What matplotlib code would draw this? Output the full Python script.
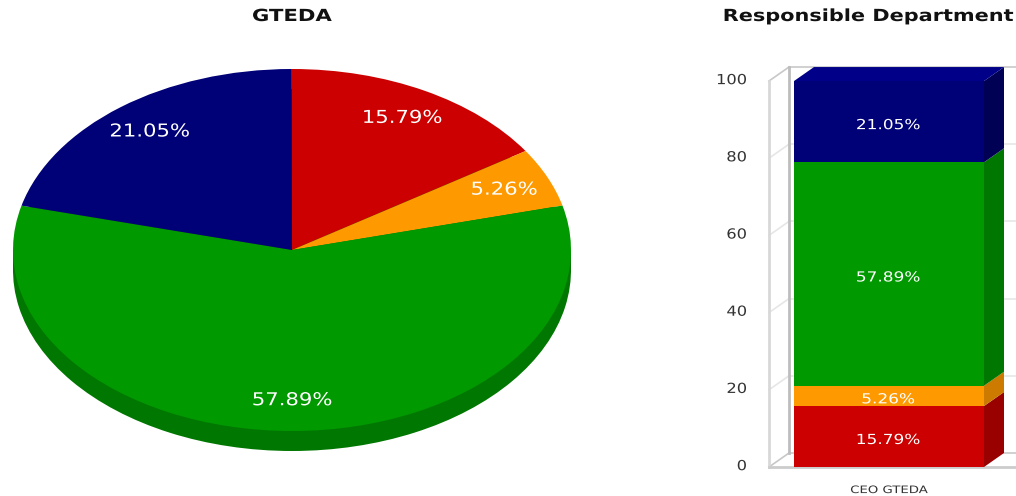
import matplotlib
matplotlib.use("Agg")
import matplotlib.pyplot as plt
from matplotlib.patches import Polygon
from matplotlib.patheffects import AbstractPathEffect
from matplotlib.transforms import Affine2D, ScaledTranslation

plt.rcParams['font.family'] = ['DejaVu Sans']

# ---- data ----
pie_title = "GTEDA"
bar_title = "Responsible Department"
series_values = [15.79, 5.26, 57.89, 21.05]   # red, orange, green, navy
category = "CEO GTEDA"
y_ticks = [0, 20, 40, 60, 80, 100]

# ---- styles ----
front = ['#CC0000', '#FF9900', '#009900', '#000077']
side = ['#990000', '#CC7A00', '#007700', '#000055']
top_col = '#000088'
rim = '#007700'
W, H = 1016, 496
fig = plt.figure(figsize=(W / 100, H / 100), dpi=100, facecolor='white')


class StretchX(AbstractPathEffect):
    """Widen a text's glyphs horizontally, keeping it real text."""

    def __init__(self, factor, anchor='center'):
        super().__init__()
        self.factor, self.anchor = factor, anchor

    def draw_path(self, renderer, gc, tpath, affine, rgbFace=None):
        ext = tpath.get_extents()
        cx = ext.x1 if self.anchor == 'right' else (ext.x0 + ext.x1) / 2
        t = Affine2D().translate(-cx, 0).scale(self.factor, 1).translate(cx, 0) + affine
        renderer.draw_path(gc, tpath, t, rgbFace)


def px_axes(x0, y_top, x1, y_bot):
    return fig.add_axes([x0 / W, 1 - y_bot / H, (x1 - x0) / W, (y_bot - y_top) / H])


# ---- pie (elliptical, with a dark rim below) ----
depth = 20 / 181
ax = px_axes(13, 69, 571, 451)
fractions = [v / 100 for v in series_values]
ax.pie(fractions, normalize=False, center=(0, -depth), radius=1, startangle=90,
       counterclock=False, colors=[rim] * 4, frame=True)
ax.add_patch(plt.Rectangle((-1, -depth), 2, depth, color=rim, lw=0, zorder=1))
ax.pie(fractions, normalize=False, radius=1, startangle=90, counterclock=False,
       colors=front, autopct=lambda p: f'{p:.2f}%', pctdistance=0.83, frame=True,
       textprops=dict(color='white', fontsize=12.8), wedgeprops=dict(zorder=2))
ax.set_aspect('auto')
ax.set_xlim(-1, 1)
ax.set_ylim(-1 - depth, 1)
ax.axis('off')
for t in ax.texts:
    t.set_zorder(5)
    if t.get_text().endswith('%'):
        t.set_path_effects([StretchX(1.19)])
fig.text(292 / W, 1 - 16 / H, pie_title, ha='center', va='center',
         fontsize=12, fontweight='bold', color='#111111',
         path_effects=[StretchX(1.27)])

# ---- 3-D stacked column ----
bx = px_axes(769, 60, 1016, 467)
px_y = 386 / 100
px_x = 190
dx, dy = 20 / px_x, 14 / px_y
bx.set_ylim(0, 407 / px_y)
bx.set_xlim(-120 / px_x, 127 / px_x)
x_left = bx.get_xlim()[0]
x_right = bx.get_xlim()[1]

# walls and grid
for v in y_ticks:
    col = '#c8c8c8' if v in (0, 100) else '#e6e6e6'
    bx.plot([x_left, x_left + dx], [v, v + dy], color=col, lw=1.2, zorder=1, clip_on=False)
    bx.plot([x_left + dx, x_right], [v + dy, v + dy], color=col, lw=1.2, zorder=1, clip_on=False)
bx.plot([x_left, x_left], [0, 100], color='#d8d8d8', lw=2, zorder=1, clip_on=False)
bx.plot([x_left + dx, x_left + dx], [dy, 100 + dy], color='#bdbdbd', lw=2, zorder=1, clip_on=False)
bx.plot([x_left, x_right], [0, 0], color='#cccccc', lw=2, zorder=1, clip_on=False)

# column
bottom = 0
hw = 0.5
for v, f, s in zip(series_values, front, side):
    bx.bar(0, v, width=1, bottom=bottom, color=f, lw=0, zorder=3)
    bx.add_patch(Polygon([(hw, bottom), (hw + dx, bottom + dy), (hw + dx, bottom + v + dy), (hw, bottom + v)],
                         closed=True, fc=s, ec='none', zorder=2.5))
    bx.text(-0.005, bottom + v / 2 - 0.9, f'{v:.2f}%', ha='center', va='center', color='white',
            fontsize=10, zorder=4, path_effects=[StretchX(1.22)])
    bottom += v
bx.add_patch(Polygon([(-hw, bottom), (-hw + dx, bottom + dy), (hw + dx, bottom + dy), (hw, bottom)],
                     closed=True, fc=top_col, ec='none', zorder=2.5))

for sp in bx.spines.values():
    sp.set_visible(False)
bx.patch.set_alpha(0)
bx.set_yticks(y_ticks)
bx.set_yticklabels([str(v) for v in y_ticks], fontsize=10, color='#333333')
bx.tick_params(axis='y', length=0, pad=16)
shift_up = ScaledTranslation(0, 1.7 / 72, fig.dpi_scale_trans)
for t in bx.get_yticklabels():
    t.set_transform(t.get_transform() + shift_up)
    t.set_path_effects([StretchX(1.17, anchor='right')])
bx.set_xticks([0])
bx.set_xticklabels([category], fontsize=7.4, color='#333333')
bx.tick_params(axis='x', length=0, pad=13)
for t in bx.get_xticklabels():
    t.set_path_effects([StretchX(1.29)])
fig.text(868 / W, 1 - 16 / H, bar_title, ha='center', va='center',
         fontsize=12, fontweight='bold', color='#111111',
         path_effects=[StretchX(1.25)])

fig.savefig('out.png', dpi=100, facecolor='white')
